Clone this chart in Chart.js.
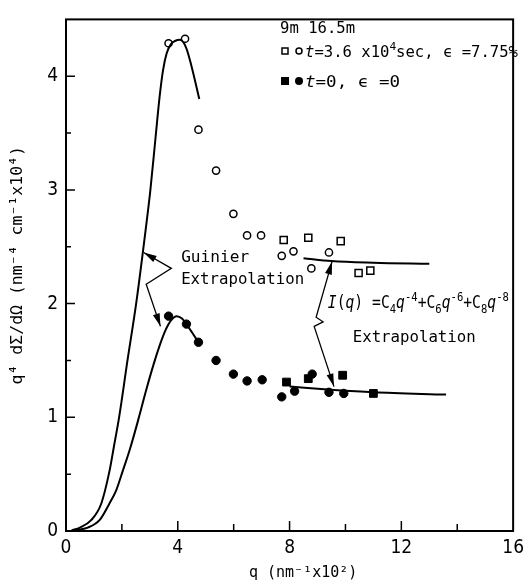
<!DOCTYPE html>
<html>
<head>
<meta charset="utf-8">
<script src="https://cdn.jsdelivr.net/npm/chart.js@4.4.0/dist/chart.umd.min.js"></script>
<style>
  html, body { margin: 0; padding: 0; background: #fff; }
</style>
</head>
<body>
<canvas id="sans-chart" width="530" height="587"></canvas>
<script>
// q en nm^-1 x10^2, valeurs de q^4 dΣ/dΩ
const openCircleQ = [3.67, 4.26, 4.74, 5.37, 5.99, 6.48, 6.98, 7.72, 8.14, 8.78, 9.41];
const openCircleY = [4.29, 4.33, 3.53, 3.17, 2.79, 2.60, 2.60, 2.42, 2.46, 2.31, 2.45];
const openSquareQ = [7.79, 8.67, 9.83, 10.47, 10.89];
const openSquareY = [2.56, 2.58, 2.55, 2.27, 2.29];
const fullCircleQ = [3.67, 4.31, 4.74, 5.37, 5.99, 6.48, 7.02, 7.72, 8.18, 8.81, 9.41, 9.94];
const fullCircleY = [1.89, 1.82, 1.66, 1.50, 1.38, 1.32, 1.33, 1.18, 1.23, 1.38, 1.22, 1.21];
const fullSquareQ = [7.89, 8.67, 9.90, 11.0];
const fullSquareY = [1.31, 1.34, 1.37, 1.21];

// courbes d'extrapolation de Guinier
const guinierUpQ = [0.2, 0.5, 0.9, 1.26, 1.55, 1.72, 1.9, 2.2, 2.51, 2.82, 3.02, 3.2, 3.35, 3.47, 3.6, 3.75, 3.9, 4.08, 4.3, 4.5, 4.77];
const guinierUpY = [0.005, 0.03, 0.095, 0.24, 0.52, 0.75, 1.0, 1.5, 2.0, 2.59, 3.0, 3.45, 3.82, 4.05, 4.2, 4.28, 4.31, 4.32, 4.25, 4.08, 3.8];
const guinierLowQ = [0.3, 0.78, 1.2, 1.55, 1.8, 2.02, 2.3, 2.61, 2.87, 3.14, 3.35, 3.55, 3.75, 3.96, 4.15, 4.31, 4.5, 4.74];
const guinierLowY = [0.005, 0.03, 0.095, 0.24, 0.36, 0.52, 0.73, 1.0, 1.24, 1.47, 1.63, 1.76, 1.85, 1.89, 1.87, 1.82, 1.75, 1.66];

// extrapolation I(q) = C4 q^-4 + C6 q^-6 + C8 q^-8
const powerUpQ = [8.5, 9.5, 11.0, 13.0];
const powerUpY = [2.40, 2.375, 2.36, 2.35];
const powerLowQ = [8.0, 9.6, 11.0, 13.6];
const powerLowY = [1.27, 1.24, 1.22, 1.20];

const xTicks = [0, 4, 8, 12, 16];
const yTicks = [0, 1, 2, 3, 4];

const MONO = '"DejaVu Sans Mono", "Liberation Mono", monospace';
const NARROW = '"Liberation Sans Narrow", "DejaVu Sans Condensed", "DejaVu Sans Mono", sans-serif';

const pts = (xs, ys) => xs.map((x, i) => ({ x, y: ys[i] }));

function markers(label, xs, ys, style, filled, radius) {
  return {
    label,
    data: pts(xs, ys),
    showLine: false,
    pointStyle: style,
    pointRadius: radius,
    pointBorderWidth: filled ? 1 : 1.5,
    pointBorderColor: "#000",
    pointBackgroundColor: filled ? "#000" : "#fff",
  };
}

function curve(label, xs, ys) {
  return {
    label,
    data: pts(xs, ys),
    showLine: true,
    borderColor: "#000",
    borderWidth: 2,
    pointRadius: 0,
    cubicInterpolationMode: "monotone",
    fill: false,
  };
}

// annotations (coordonnées en unités des données)
const guinierBracket = [[2.78, 2.45], [3.77, 2.31], [2.87, 2.17], [3.38, 1.80]];
const powerBracket = [[9.52, 2.37], [8.95, 1.88], [9.20, 1.84], [8.88, 1.80], [9.59, 1.27]];

function arrowHead(ctx, from, to) {
  const ang = Math.atan2(to[1] - from[1], to[0] - from[0]);
  const len = 13, hw = 3.5;
  ctx.beginPath();
  ctx.moveTo(to[0], to[1]);
  ctx.lineTo(to[0] - len * Math.cos(ang) + hw * Math.sin(ang), to[1] - len * Math.sin(ang) - hw * Math.cos(ang));
  ctx.lineTo(to[0] - len * Math.cos(ang) - hw * Math.sin(ang), to[1] - len * Math.sin(ang) + hw * Math.cos(ang));
  ctx.closePath();
  ctx.fill();
}

function bracket(ctx, chart, list) {
  const { x: sx, y: sy } = chart.scales;
  const p = list.map(([a, b]) => [sx.getPixelForValue(a), sy.getPixelForValue(b)]);
  ctx.lineWidth = 1.3;
  ctx.beginPath();
  p.forEach((q, i) => (i ? ctx.lineTo(q[0], q[1]) : ctx.moveTo(q[0], q[1])));
  ctx.stroke();
  arrowHead(ctx, p[1], p[0]);
  arrowHead(ctx, p[p.length - 2], p[p.length - 1]);
}

// texte riche (indices, exposants, italique) étiré à une largeur donnée
function richText(ctx, x, y, parts, size, family, width) {
  const runs = parts.map((p) => {
    const small = p.sup || p.sub;
    const fs = small ? size * 0.72 : size;
    const font = (p.it ? "italic " : "") + fs + "px " + family;
    ctx.font = font;
    return { ...p, font, w: ctx.measureText(p.t).width };
  });
  const total = runs.reduce((s, r) => s + r.w, 0);
  const k = width ? width / total : 1;
  ctx.save();
  ctx.translate(x, y);
  ctx.scale(k, 1);
  ctx.textAlign = "left";
  ctx.textBaseline = "alphabetic";
  let cx = 0;
  runs.forEach((r) => {
    ctx.font = r.font;
    const dy = r.sup ? -size * 0.42 : r.sub ? size * 0.28 : 0;
    ctx.fillText(r.t, cx, dy);
    cx += r.w;
  });
  ctx.restore();
}

const framePlugin = {
  id: "frame",
  afterDraw(chart) {
    const { ctx, chartArea: a, scales } = chart;
    ctx.save();
    ctx.strokeStyle = "#000";
    ctx.fillStyle = "#000";

    // cadre
    ctx.lineWidth = 2;
    ctx.strokeRect(a.left, a.top, a.right - a.left, a.bottom - a.top);

    // graduations vers l'intérieur
    ctx.lineWidth = 1.5;
    ctx.beginPath();
    for (let v = 2; v < 16; v += 2) {
      const px = scales.x.getPixelForValue(v);
      const len = v % 4 === 0 ? 10 : 7;
      ctx.moveTo(px, a.bottom);
      ctx.lineTo(px, a.bottom - len);
    }
    for (let v = 0.5; v < 4.5; v += 0.5) {
      const py = scales.y.getPixelForValue(v);
      const len = Number.isInteger(v) ? 9 : 5;
      ctx.moveTo(a.left, py);
      ctx.lineTo(a.left + len, py);
    }
    ctx.stroke();

    // flèches
    bracket(ctx, chart, guinierBracket);
    bracket(ctx, chart, powerBracket);

    const X = (v) => scales.x.getPixelForValue(v);
    const Y = (v) => scales.y.getPixelForValue(v);

    richText(ctx, X(4.12), Y(2.37), [{ t: "Guinier" }], 15.5, MONO, 68);
    richText(ctx, X(4.12), Y(2.17), [{ t: "Extrapolation" }], 15.5, MONO, 123);
    richText(ctx, X(10.26), Y(1.66), [{ t: "Extrapolation" }], 15.5, MONO, 123);
    richText(ctx, X(9.37), Y(1.96), [
      { t: "I", it: true }, { t: "(" }, { t: "q", it: true }, { t: ") =C" },
      { t: "4", sub: true }, { t: "q", it: true }, { t: "-4", sup: true },
      { t: "+C" }, { t: "6", sub: true }, { t: "q", it: true }, { t: "-6", sup: true },
      { t: "+C" }, { t: "8", sub: true }, { t: "q", it: true }, { t: "-8", sup: true },
    ], 17, MONO, 181);

    // légende
    richText(ctx, 280, 33, [{ t: "9m 16.5m" }], 15.5, MONO, 75);
    ctx.lineWidth = 1.5;
    ctx.strokeRect(282, 48, 6, 6);
    ctx.beginPath();
    ctx.arc(299, 51, 3, 0, Math.PI * 2);
    ctx.stroke();
    richText(ctx, 305, 57, [
      { t: "t", it: true }, { t: "=3.6 x10" }, { t: "4", sup: true }, { t: "sec, ϵ =7.75%" },
    ], 15.5, MONO, 213);
    ctx.fillRect(281, 77, 8, 8);
    ctx.beginPath();
    ctx.arc(299, 81, 4, 0, Math.PI * 2);
    ctx.fill();
    richText(ctx, 305, 87, [{ t: "t", it: true }, { t: "=0, ϵ =0" }], 15.5, MONO, 95);

    ctx.restore();
  },
};

const chart = new Chart(document.getElementById("sans-chart"), {
  type: "scatter",
  data: {
    datasets: [
      curve("Guinier 16.5m", guinierUpQ, guinierUpY),
      curve("Guinier t=0", guinierLowQ, guinierLowY),
      curve("I(q) t=3.6e4", powerUpQ, powerUpY),
      curve("I(q) t=0", powerLowQ, powerLowY),
      markers("16.5m t=3.6e4", openCircleQ, openCircleY, "circle", false, 3.6),
      markers("9m t=3.6e4", openSquareQ, openSquareY, "rect", false, 5),
      markers("16.5m t=0", fullCircleQ, fullCircleY, "circle", true, 4.2),
      markers("9m t=0", fullSquareQ, fullSquareY, "rect", true, 5.5),
    ],
  },
  options: {
    responsive: false,
    animation: false,
    layout: { padding: { top: 7, right: 10, left: 0, bottom: 0 } },
    plugins: { legend: { display: false }, tooltip: { enabled: false } },
    scales: {
      x: {
        type: "linear",
        min: 0,
        max: 16,
        afterBuildTicks: (s) => { s.ticks = xTicks.map((v) => ({ value: v })); },
        afterFit: (s) => { s.height = 56; },
        grid: { display: false, drawTicks: false },
        border: { display: false },
        ticks: { padding: 6, color: "#000", maxRotation: 0, font: { family: NARROW, size: 19 } },
        title: {
          display: true,
          text: "   q (nm⁻¹x10²)",
          color: "#000",
          font: { family: MONO, size: 15 },
          padding: { top: 0, bottom: 5 },
        },
      },
      y: {
        type: "linear",
        min: 0,
        max: 4.5,
        afterBuildTicks: (s) => { s.ticks = yTicks.map((v) => ({ value: v })); },
        afterFit: (s) => { s.width = 66; },
        grid: { display: false, drawTicks: false },
        border: { display: false },
        ticks: { padding: 8, color: "#000", font: { family: NARROW, size: 19 } },
        title: {
          display: true,
          text: "  q⁴ dΣ/dΩ (nm⁻⁴ cm⁻¹x10⁴)",
          color: "#000",
          font: { family: MONO, size: 16.5 },
          padding: { top: 8, bottom: 0 },
        },
      },
    },
  },
  plugins: [framePlugin],
});
</script>
</body>
</html>
